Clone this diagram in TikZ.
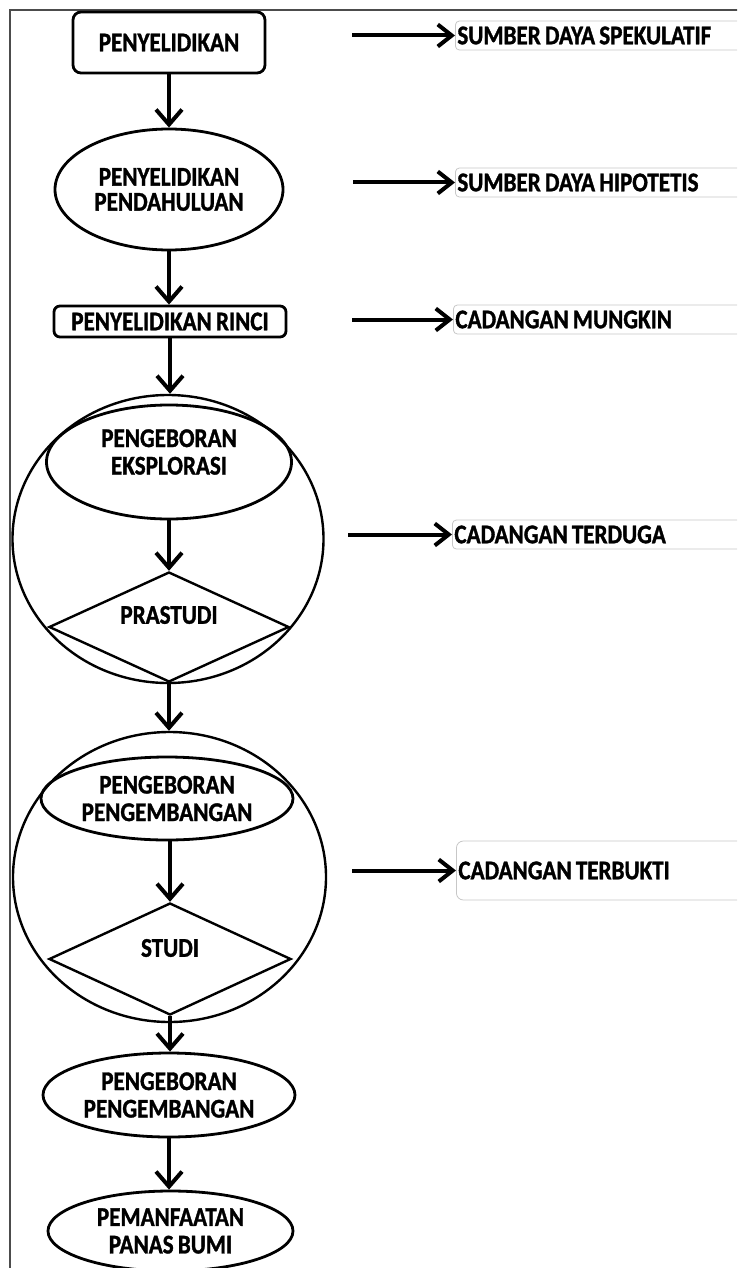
\documentclass[tikz,border=0pt]{standalone}
\usepackage{fontspec}
\setmainfont{Carlito}[FakeStretch=0.855, WordSpace=0.8, BoldFeatures={FakeBold=1.2}]
\usetikzlibrary{shapes.geometric,arrows.meta}
\begin{document}
\begin{tikzpicture}[x=1pt,y=-1pt,
  every node/.style={font=\bfseries\fontsize{27}{27.5}\selectfont, inner sep=0pt},
  txt/.style={align=center},
  box/.style={draw, line width=2.8pt, rounded corners=8pt, align=center},
  ell/.style={draw, ellipse, line width=2.8pt, align=center},
  big/.style={draw, ellipse, line width=2.4pt},
  dia/.style={draw, diamond, line width=2.4pt},
  lab/.style={draw=black!22, line width=0.8pt, rounded corners=4pt, anchor=west,
              minimum height=29pt, text width=330pt, align=flush left, inner xsep=2pt},
  varrow/.style={line width=4pt, -{Straight Barb[length=15pt,width=26pt]}},
  harrow/.style={line width=4pt, -{Straight Barb[length=14pt,width=22pt]}},
  frame/.style={draw=black!70, line width=1.2pt},
]
\useasboundingbox (0,0) rectangle (737,1268);
\clip (0,0) rectangle (737,1268);

% outer frame
\coordinate (fbl) at (10,1275);
\coordinate (ftl) at (10,10);
\coordinate (ftr) at (745,10);
\draw[frame] (fbl) -- (ftl) -- (ftr);

% left column
\node[box, minimum width=192, minimum height=61] (n1) at (169,42.5) {PENYELIDIKAN};
\node[ell, minimum width=228, minimum height=121, font=\bfseries\fontsize{27}{25}\selectfont] (n2) at (169,189.5) {PENYELIDIKAN\\PENDAHULUAN};
\node[box, rounded corners=6pt, minimum width=232, minimum height=31] (n3) at (170,321.5) {PENYELIDIKAN RINCI};

\node[big, minimum width=311, minimum height=288] (c1) at (168,539) {};
\node[ell, minimum width=245, minimum height=114] (n4) at (169,462) {};
\node[txt] (t4) at (169,452) {PENGEBORAN\\EKSPLORASI};
\node[dia, minimum width=240, minimum height=110] (d1) at (169,627) {};
\node (t5) at (169,615) {PRASTUDI};

\node[big, minimum width=313, minimum height=290] (c2) at (169.5,877) {};
\node[ell, minimum width=252, minimum height=83] (n5) at (167,798.5) {PENGEBORAN\\PENGEMBANGAN};
\node[dia, minimum width=242, minimum height=112] (d2) at (170,959) {};
\node (t6) at (170,948) {STUDI};

\node[ell, minimum width=252, minimum height=84] (n6) at (169,1095) {PENGEBORAN\\PENGEMBANGAN};
\node[ell, minimum width=245, minimum height=80] (n7) at (170.5,1231) {PEMANFAATAN\\PANAS BUMI};

% vertical arrows
\draw[varrow] (n1.south) -- (n1.south |- n2.north);
\draw[varrow] (n2.south) -- (n2.south |- n3.north);
\draw[varrow] (n3.south) -- (n3.south |- c1.north);
\draw[varrow] (n4.south) -- (n4.south |- d1.north);
\draw[varrow] (d1.south) -- (d1.south |- c2.north);
\draw[varrow] (n5.south -| d2.north) -- (d2.north);
\draw[varrow] (d2.south) -- (d2.south |- n6.north);
\draw[varrow] (n6.south) -- (n6.south |- n7.north);

% right labels
\node[lab] (l1) at (455,35.5) {SUMBER DAYA SPEKULATIF};
\node[lab] (l2) at (455,182.5) {SUMBER DAYA HIPOTETIS};
\node[lab] (l3) at (453,319.5) {CADANGAN MUNGKIN};
\node[lab] (l4) at (452,534.5) {CADANGAN TERDUGA};
\node[lab, minimum height=59pt, rounded corners=7pt] (l5) at (456,870.5) {CADANGAN TERBUKTI};

\coordinate (a1) at (352,35.5);
\coordinate (a2) at (353,182.5);
\coordinate (a3) at (352,319.5);
\coordinate (a4) at (348,534.5);
\coordinate (a5) at (352,870.5);
\draw[harrow] (a1) -- (l1.west);
\draw[harrow] (a2) -- (l2.west);
\draw[harrow] (a3) -- (l3.west);
\draw[harrow] (a4) -- (l4.west);
\draw[harrow] (a5) -- (l5.west);
\end{tikzpicture}
\end{document}
